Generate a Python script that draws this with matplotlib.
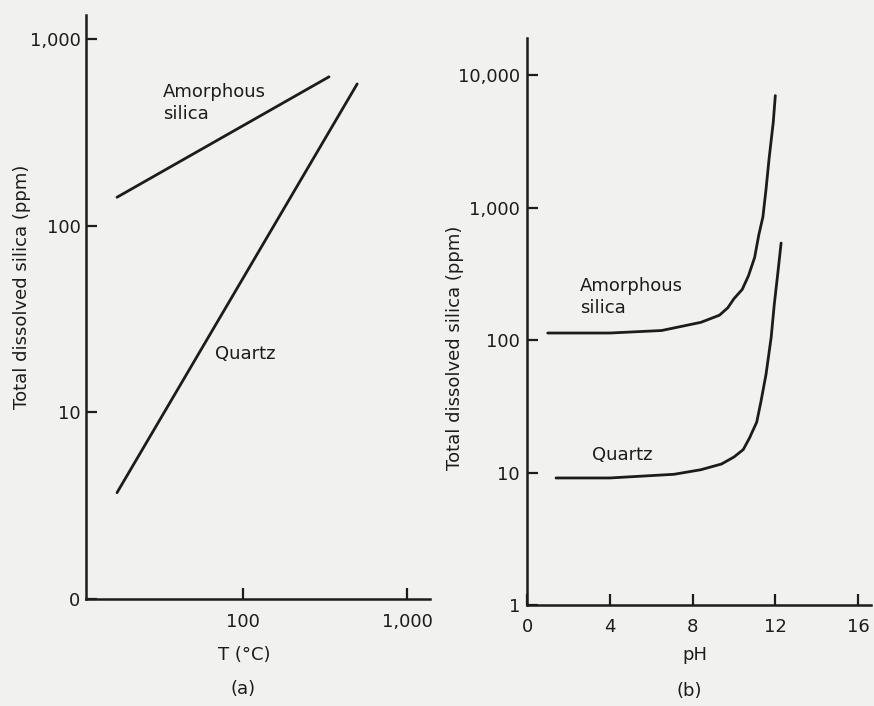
import matplotlib
matplotlib.use("Agg")
import matplotlib.pyplot as plt

# Panel (a): solubility against temperature (log-log)
temp_amorphous = [17, 334]          # deg C
silica_amorphous_T = [142, 628]     # ppm
temp_quartz = [17, 496]
silica_quartz_T = [3.7, 575]

# Panel (b): solubility against pH (log y)
ph_amorphous = [1.0, 4.0, 6.5, 8.4, 9.3, 9.7, 10.0, 10.4, 10.7, 11.0, 11.2,
                11.4, 11.55, 11.7, 11.9, 12.0]
silica_amorphous_pH = [113, 113, 118, 136, 154, 175, 205, 241, 305, 420, 620,
                       850, 1370, 2350, 4400, 7000]
ph_quartz = [1.4, 4.0, 7.1, 8.4, 9.4, 10.0, 10.45, 10.75, 11.1, 11.3, 11.55,
             11.8, 11.95, 12.13, 12.28]
silica_quartz_pH = [9.1, 9.1, 9.7, 10.5, 11.6, 13.1, 14.9, 18.2, 24, 34, 55,
                    105, 186, 330, 540]

a_yticks = [1, 10, 100, 1000]
a_yticklabels = ["0", "10", "100", "1,000"]
a_xticks = [100, 1000]
a_xticklabels = ["100", "1,000"]
b_yticks = [1, 10, 100, 1000, 10000]
b_yticklabels = ["1", "10", "100", "1,000", "10,000"]
b_xticks = [0, 4, 8, 12, 16]
b_xticklabels = ["0", "4", "8", "12", "16"]

paper = "#f1f1ef"
ink = "#1c1c1c"
fs = 13
plt.rcParams["font.family"] = ["DejaVu Sans"]

fig = plt.figure(figsize=(8.74, 7.06), dpi=100, facecolor=paper)


def style(ax):
    ax.set_facecolor(paper)
    for s in ("top", "right"):
        ax.spines[s].set_visible(False)
    for s in ("left", "bottom"):
        ax.spines[s].set_linewidth(1.8)
        ax.spines[s].set_color(ink)
    ax.tick_params(axis="both", which="major", direction="in", length=8,
                   width=1.6, colors=ink, labelsize=fs)


# ---- (a) ----
ax1 = fig.add_axes([0.0984, 0.152, 0.3936, 0.827])
style(ax1)
ax1.set_xscale("log")
ax1.set_yscale("log")
ax1.set_xlim(11, 1380)
ax1.set_ylim(1, 1350)
ax1.plot(temp_amorphous, silica_amorphous_T, color=ink, lw=2.0, solid_capstyle="round")
ax1.plot(temp_quartz, silica_quartz_T, color=ink, lw=2.0, solid_capstyle="round")
ax1.set_yticks(a_yticks)
ax1.set_yticklabels(a_yticklabels)
ax1.set_xticks(a_xticks)
ax1.set_xticklabels(a_xticklabels)
ax1.minorticks_off()
ax1.tick_params(axis="x", pad=10)
ax1.tick_params(axis="y", pad=4)

# ---- (b) ----
ax2 = fig.add_axes([0.603, 0.143, 0.393, 0.803])
style(ax2)
ax2.set_yscale("log")
ax2.set_xlim(0, 16.6)
ax2.set_ylim(1, 19000)
ax2.plot(ph_amorphous, silica_amorphous_pH, color=ink, lw=2.0, solid_capstyle="round")
ax2.plot(ph_quartz, silica_quartz_pH, color=ink, lw=2.0, solid_capstyle="round")
ax2.set_yticks(b_yticks)
ax2.set_yticklabels(b_yticklabels)
ax2.set_xticks(b_xticks)
ax2.set_xticklabels(b_xticklabels)
ax2.minorticks_off()
ax2.tick_params(axis="x", pad=9)
ax2.tick_params(axis="y", pad=5)

# ---- annotations ----
fig.text(0.1865, 0.854, "Amorphous\nsilica", ha="left", va="center", fontsize=fs,
         color=ink, linespacing=1.25)
fig.text(0.246, 0.4986, "Quartz", ha="left", va="center", fontsize=fs, color=ink)
fig.text(0.6636, 0.579, "Amorphous\nsilica", ha="left", va="center", fontsize=fs,
         color=ink, linespacing=1.25)
fig.text(0.6773, 0.3555, "Quartz", ha="left", va="center", fontsize=fs, color=ink)

fig.text(0.0252, 0.5935, "Total dissolved silica (ppm)", rotation=90, ha="center",
         va="center", fontsize=fs, color=ink)
fig.text(0.5206, 0.507, "Total dissolved silica (ppm)", rotation=90, ha="center",
         va="center", fontsize=fs, color=ink)
fig.text(0.279, 0.0722, "T (°C)", ha="center", va="center", fontsize=fs, color=ink)
fig.text(0.278, 0.024, "(a)", ha="center", va="center", fontsize=fs, color=ink)
fig.text(0.795, 0.0722, "pH", ha="center", va="center", fontsize=fs, color=ink)
fig.text(0.789, 0.021, "(b)", ha="center", va="center", fontsize=fs, color=ink)

fig.savefig("out.png", dpi=100, facecolor=paper)
